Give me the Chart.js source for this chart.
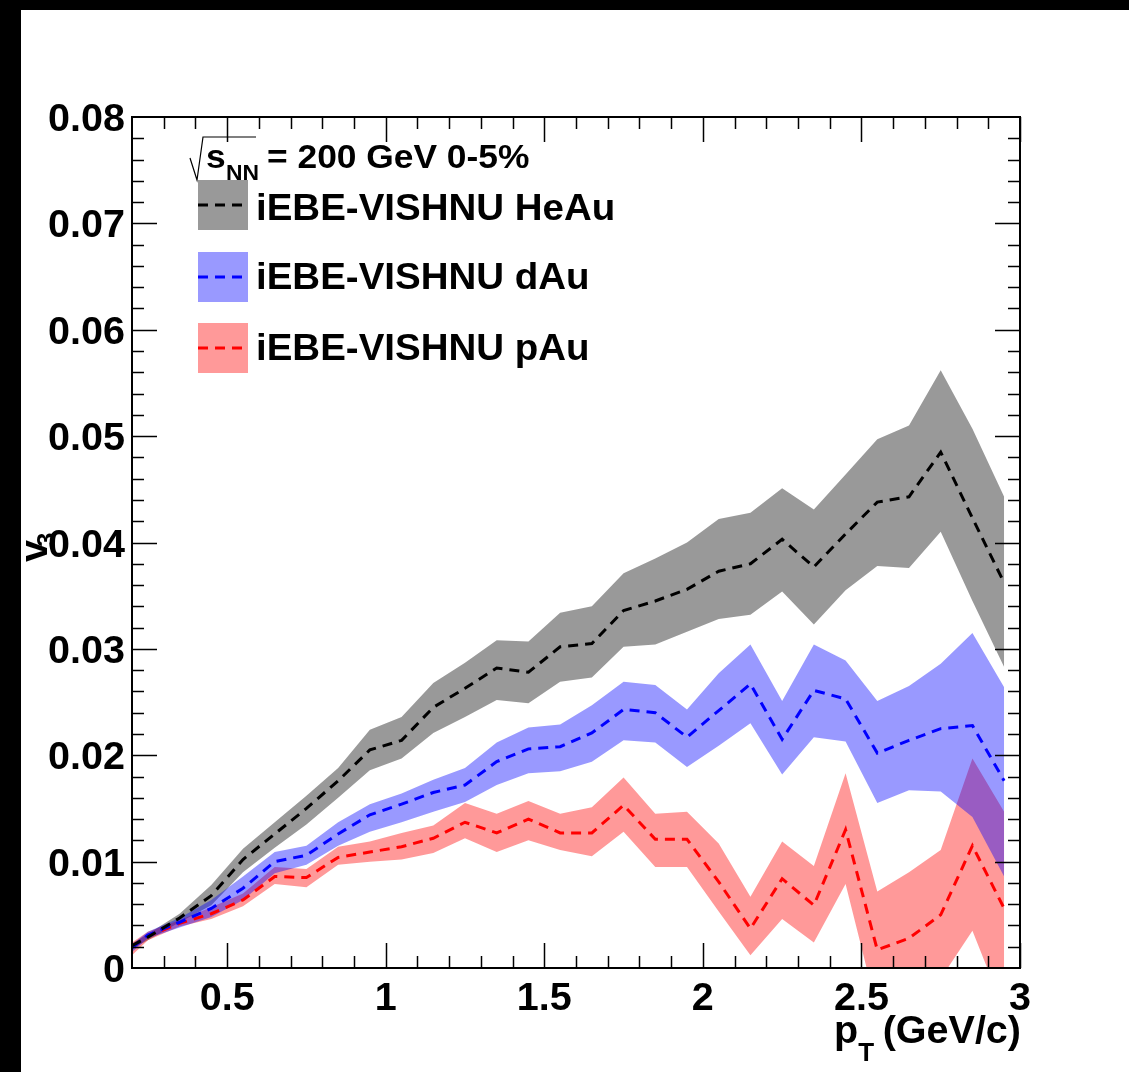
<!DOCTYPE html>
<html>
<head>
<meta charset="utf-8">
<title>v3 vs pT</title>
<script src="https://cdn.jsdelivr.net/npm/chart.js@4.4.1/dist/chart.umd.min.js"></script>
<style>
  html, body { margin: 0; padding: 0; background: #000; overflow: hidden; }
  canvas { display: block; }
</style>
</head>
<body>
<canvas id="v3chart" width="1129" height="1072"></canvas>
<script>
// pT bin centres (GeV/c)
const pT = [0.2, 0.25, 0.35, 0.45, 0.55, 0.65, 0.75, 0.85, 0.95, 1.05, 1.15, 1.25, 1.35, 1.45,
  1.55, 1.65, 1.75, 1.85, 1.95, 2.05, 2.15, 2.25, 2.35, 2.45, 2.55, 2.65, 2.75, 2.85, 2.95];

// v3 central values and band edges
const heAuMid = [0.0021, 0.0029, 0.0047, 0.0068, 0.0102, 0.0126, 0.0150, 0.0176, 0.0205, 0.0214, 0.0245, 0.0263, 0.0282, 0.0278,
  0.0302, 0.0305, 0.0336, 0.0345, 0.0356, 0.0373, 0.0380, 0.0403, 0.0377, 0.0408, 0.0438, 0.0443, 0.0485, 0.0423, 0.0362];
const heAuHi = [0.0023, 0.0032, 0.0051, 0.0078, 0.0112, 0.0137, 0.0162, 0.0188, 0.0224, 0.0236, 0.0268, 0.0287, 0.0308, 0.0307,
  0.0334, 0.0340, 0.0371, 0.0385, 0.0400, 0.0422, 0.0428, 0.0451, 0.0431, 0.0464, 0.0497, 0.0510, 0.0562, 0.0507, 0.0443];
const heAuLo = [0.0018, 0.0026, 0.0043, 0.0059, 0.0090, 0.0113, 0.0135, 0.0160, 0.0186, 0.0197, 0.0221, 0.0236, 0.0252, 0.0249,
  0.0269, 0.0273, 0.0302, 0.0304, 0.0316, 0.0328, 0.0332, 0.0354, 0.0323, 0.0355, 0.0378, 0.0376, 0.0410, 0.0345, 0.0283];

const dAuMid = [0.0019, 0.0031, 0.0043, 0.0056, 0.0075, 0.0100, 0.0106, 0.0126, 0.0144, 0.0154, 0.0165, 0.0172, 0.0194, 0.0206,
  0.0208, 0.0221, 0.0243, 0.0240, 0.0217, 0.0242, 0.0267, 0.0215, 0.0261, 0.0253, 0.0202, 0.0214, 0.0225, 0.0228, 0.0176];
const dAuHi = [0.0022, 0.0034, 0.0047, 0.0064, 0.0086, 0.0109, 0.0115, 0.0137, 0.0154, 0.0164, 0.0177, 0.0188, 0.0212, 0.0226,
  0.0229, 0.0247, 0.0269, 0.0266, 0.0243, 0.0277, 0.0304, 0.0251, 0.0304, 0.0289, 0.0251, 0.0265, 0.0286, 0.0315, 0.0264];
const dAuLo = [0.0015, 0.0028, 0.0038, 0.0048, 0.0064, 0.0089, 0.0097, 0.0115, 0.0128, 0.0137, 0.0147, 0.0156, 0.0172, 0.0183,
  0.0185, 0.0194, 0.0214, 0.0212, 0.0189, 0.0209, 0.0230, 0.0182, 0.0217, 0.0213, 0.0155, 0.0167, 0.0166, 0.0142, 0.0086];

const pAuMid = [0.0020, 0.0030, 0.0042, 0.0051, 0.0064, 0.0086, 0.0085, 0.0104, 0.0109, 0.0114, 0.0122, 0.0137, 0.0127, 0.0140,
  0.0127, 0.0127, 0.0153, 0.0121, 0.0121, 0.0081, 0.0037, 0.0084, 0.0059, 0.0130, 0.0017, 0.0028, 0.0050, 0.0115, 0.0056];
const pAuHi = [0.0024, 0.0034, 0.0045, 0.0057, 0.0070, 0.0095, 0.0093, 0.0114, 0.0119, 0.0127, 0.0134, 0.0155, 0.0145, 0.0157,
  0.0145, 0.0151, 0.0179, 0.0145, 0.0147, 0.0117, 0.0067, 0.0119, 0.0096, 0.0183, 0.0072, 0.0090, 0.0111, 0.0197, 0.0147];
const pAuLo = [0.0012, 0.0026, 0.0039, 0.0046, 0.0058, 0.0079, 0.0076, 0.0097, 0.0100, 0.0102, 0.0108, 0.0122, 0.0109, 0.0120,
  0.0111, 0.0105, 0.0128, 0.0095, 0.0095, 0.0053, 0.0012, 0.0046, 0.0024, 0.0079, -0.0040, -0.0034, -0.0010, 0.0035, -0.0040];

// axis ticks
const xTicks = [0.5, 1, 1.5, 2, 2.5, 3];
const xTickLabels = ['0.5', '1', '1.5', '2', '2.5', '3'];
const yTicks = [0, 0.01, 0.02, 0.03, 0.04, 0.05, 0.06, 0.07, 0.08];
const yTickLabels = ['0', '0.01', '0.02', '0.03', '0.04', '0.05', '0.06', '0.07', '0.08'];

const legendLabels = ['iEBE-VISHNU HeAu', 'iEBE-VISHNU dAu', 'iEBE-VISHNU pAu'];

const GRAY_FILL = 'rgba(0,0,0,0.4)';
const BLUE_FILL = 'rgba(0,0,255,0.4)';
const RED_FILL = 'rgba(255,0,0,0.4)';

const SX = 1.04;       // text is a little wider than the plain font
const FONT = '"Liberation Sans", Arial, Helvetica, sans-serif';

const pts = (vals) => pT.map((x, i) => ({ x: x, y: vals[i] }));

// draws bold text, horizontally stretched by SX
function text(ctx, s, x, y, size, align) {
  ctx.save();
  ctx.font = 'bold ' + size + 'px ' + FONT;
  const w = ctx.measureText(s).width * SX;
  let x0 = x;
  if (align === 'center') x0 = x - w / 2;
  else if (align === 'right') x0 = x - w;
  ctx.translate(x0, y);
  ctx.scale(SX, 1);
  ctx.textAlign = 'left';
  ctx.textBaseline = 'alphabetic';
  ctx.fillStyle = '#000';
  ctx.fillText(s, 0, 0);
  ctx.restore();
  return w;
}

const rootStyle = {
  id: 'rootStyle',
  beforeDraw(chart) {
    const ctx = chart.ctx;
    ctx.save();
    ctx.fillStyle = '#000';
    ctx.fillRect(0, 0, chart.width, chart.height);
    ctx.fillStyle = '#fff';
    ctx.fillRect(21, 10, chart.width - 21, chart.height - 10);
    ctx.restore();
  },
  afterDraw(chart) {
    const ctx = chart.ctx;
    const a = chart.chartArea;
    const xs = chart.scales.x, ys = chart.scales.y;

    ctx.save();
    ctx.strokeStyle = '#000';
    ctx.lineWidth = 2;
    ctx.strokeRect(a.left, a.top, a.right - a.left, a.bottom - a.top);

    // ticks on all four sides, pointing inward
    ctx.lineWidth = 1.5;
    ctx.beginPath();
    for (let k = 3; k <= 30; k++) {
      const v = k / 10;
      const px = Math.round(xs.getPixelForValue(v)) + 0.5;
      const len = (k % 5 === 0) ? 25 : 12;
      ctx.moveTo(px, a.bottom); ctx.lineTo(px, a.bottom - len);
      ctx.moveTo(px, a.top); ctx.lineTo(px, a.top + len);
    }
    for (let k = 1; k < 40; k++) {
      const v = k * 0.002;
      const py = Math.round(ys.getPixelForValue(v)) + 0.5;
      const len = (k % 5 === 0) ? 25 : 12;
      ctx.moveTo(a.left, py); ctx.lineTo(a.left + len, py);
      ctx.moveTo(a.right, py); ctx.lineTo(a.right - len, py);
    }
    ctx.stroke();
    ctx.restore();

    // tick labels
    xTicks.forEach((v, i) => text(ctx, xTickLabels[i], xs.getPixelForValue(v), 1010, 38, 'center'));
    yTicks.forEach((v, i) => text(ctx, yTickLabels[i], 125, ys.getPixelForValue(v) + 14, 38, 'right'));

    // x axis title: p_T (GeV/c)
    let x = 834;
    x += text(ctx, 'p', x, 1043, 38, 'left');
    text(ctx, 'T', x, 1061, 25, 'left');
    text(ctx, '(GeV/c)', 1021, 1043, 38, 'right');

    // y axis title: v_3, rotated
    ctx.save();
    ctx.translate(47, 562);
    ctx.rotate(-Math.PI / 2);
    text(ctx, 'v', 0, 0, 38, 'left');
    text(ctx, '3', 15, 8, 25, 'left');
    ctx.restore();

    // header: sqrt(s_NN) = 200 GeV 0-5%
    ctx.save();
    ctx.strokeStyle = '#000';
    ctx.lineWidth = 1.2;
    ctx.beginPath();
    ctx.moveTo(190, 158); ctx.lineTo(197, 180); ctx.lineTo(203, 137); ctx.lineTo(256, 137);
    ctx.stroke();
    ctx.restore();
    text(ctx, 's', 206, 168, 34, 'left');
    text(ctx, 'NN', 226, 180, 22, 'left');
    text(ctx, '= 200 GeV 0-5%', 267, 168, 34, 'left');

    // legend entries
    const fills = [GRAY_FILL, BLUE_FILL, RED_FILL];
    const lines = ['#000', '#0000ff', '#ff0000'];
    const boxTop = [180, 252, 323];
    const baseline = [220, 289, 360];
    legendLabels.forEach((lab, i) => {
      ctx.save();
      ctx.fillStyle = fills[i];
      ctx.fillRect(198, boxTop[i], 50, 50);
      ctx.strokeStyle = lines[i];
      ctx.lineWidth = 3;
      ctx.setLineDash([10, 7]);
      ctx.beginPath();
      ctx.moveTo(198, boxTop[i] + 25);
      ctx.lineTo(248, boxTop[i] + 25);
      ctx.stroke();
      ctx.restore();
      text(ctx, lab, 256, baseline[i], 37, 'left');
    });
  }
};

const bandSet = (vals, fill, order, fillTarget) => ({
  data: pts(vals),
  borderWidth: 0,
  pointRadius: 0,
  backgroundColor: fill,
  fill: fillTarget,
  order: order
});

const lineSet = (vals, color) => ({
  data: pts(vals),
  borderColor: color,
  borderWidth: 3,
  borderDash: [10, 7],
  pointRadius: 0,
  fill: false,
  order: 0
});

new Chart(document.getElementById('v3chart').getContext('2d'), {
  type: 'line',
  data: {
    datasets: [
      bandSet(heAuHi, GRAY_FILL, 30, '+1'),
      bandSet(heAuLo, GRAY_FILL, 30, false),
      bandSet(pAuHi, RED_FILL, 20, '+1'),
      bandSet(pAuLo, RED_FILL, 20, false),
      bandSet(dAuHi, BLUE_FILL, 10, '+1'),
      bandSet(dAuLo, BLUE_FILL, 10, false),
      lineSet(heAuMid, '#000000'),
      lineSet(dAuMid, '#0000ff'),
      lineSet(pAuMid, '#ff0000')
    ]
  },
  options: {
    responsive: false,
    animation: false,
    layout: { padding: { left: 132, top: 117, right: 109, bottom: 104 } },
    elements: { line: { tension: 0 } },
    plugins: {
      legend: { display: false },
      tooltip: { enabled: false },
      filler: { propagate: false }
    },
    scales: {
      x: { type: 'linear', min: 0.2, max: 3, display: false },
      y: { type: 'linear', min: 0, max: 0.08, display: false }
    }
  },
  plugins: [rootStyle]
});
</script>
</body>
</html>
